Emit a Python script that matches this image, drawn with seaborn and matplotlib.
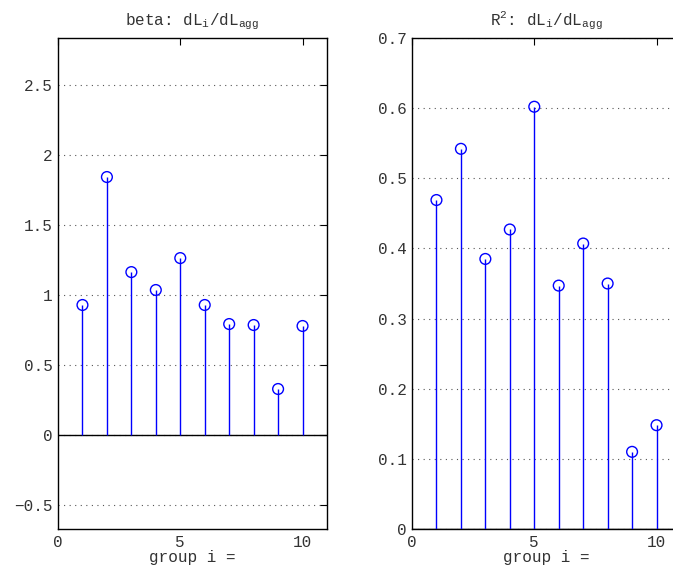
import numpy as np
import pandas as pd
import matplotlib
matplotlib.use("Agg")
import matplotlib.pyplot as plt
import seaborn as sns

groups = [1, 2, 3, 4, 5, 6, 7, 8, 9, 10]
beta = [0.929, 1.843, 1.164, 1.036, 1.264, 0.929, 0.793, 0.786, 0.329, 0.779]
r2 = [0.469, 0.542, 0.385, 0.427, 0.602, 0.347, 0.407, 0.350, 0.110, 0.148]
beta_ticks = [-0.5, 0, 0.5, 1, 1.5, 2, 2.5]
beta_ticklabels = ["\u22120.5", "0", "0.5", "1", "1.5", "2", "2.5"]
r2_ticks = [0, 0.1, 0.2, 0.3, 0.4, 0.5, 0.6, 0.7]
r2_ticklabels = ["0", "0.1", "0.2", "0.3", "0.4", "0.5", "0.6", "0.7"]
x_ticks = [0, 5, 10]

sns.set_style("white")
plt.rcParams['font.family'] = ['Liberation Mono', 'DejaVu Sans Mono']
plt.rcParams['mathtext.fontset'] = 'custom'
plt.rcParams['mathtext.rm'] = 'Liberation Mono'
plt.rcParams['mathtext.it'] = 'Liberation Mono'
plt.rcParams['mathtext.tt'] = 'Liberation Mono'

W, H = 673, 575
fig = plt.figure(figsize=(W / 100, H / 100), dpi=100)
ax1 = fig.add_axes([58 / W, 46 / H, 269 / W, 491 / H])
ax2 = fig.add_axes([412 / W, 46 / H, 269 / W, 491 / H])

blue = "#0000ff"
txt = "#333333"
fs = 11.5
df = pd.DataFrame({"group": groups, "beta": beta, "r2": r2})

def style(ax, yticks, ylabels, ylim):
    ax.set_xlim(0, 11)
    ax.set_ylim(*ylim)
    ax.set_xticks(x_ticks)
    ax.set_xticklabels([str(t) for t in x_ticks])
    ax.set_yticks(yticks)
    ax.set_yticklabels(ylabels)
    ax.tick_params(direction="in", length=5, width=0.8, top=True, right=True,
                   labelsize=fs, colors="black", labelcolor=txt, pad=4)
    for s in ax.spines.values():
        s.set_color("black")
        s.set_linewidth(1.0)
        s.set_visible(True)
    ax.yaxis.grid(True, linestyle=(0, (1, 4)), color="#555555", linewidth=0.8)
    ax.xaxis.grid(False)
    ax.set_axisbelow(True)
    ax.set_xlabel("group i =", fontsize=fs, color=txt, labelpad=0)
    ax.set_ylabel("")

for ax, col, yt, yl, ylim, title in [
    (ax1, "beta", beta_ticks, beta_ticklabels, (-0.671, 2.836),
     r"beta: dL$_{\mathrm{i}}$/dL$_{\mathrm{agg}}$"),
    (ax2, "r2", r2_ticks, r2_ticklabels, (0, 0.7),
     r"R$^{\mathrm{2}}$: dL$_{\mathrm{i}}$/dL$_{\mathrm{agg}}$"),
]:
    ax.axhline(0, color="black", linewidth=1.0, zorder=2)
    ax.vlines(df["group"], 0, df[col], color=blue, linewidth=1.0, zorder=3)
    sns.scatterplot(data=df, x="group", y=col, ax=ax, marker="o", s=60,
                    facecolors="none", edgecolor=blue, linewidth=1.0, zorder=4)
    style(ax, yt, yl, ylim)
    ax.set_title(title, fontsize=fs, color=txt, pad=9)

fig.savefig("out.png", dpi=100)
